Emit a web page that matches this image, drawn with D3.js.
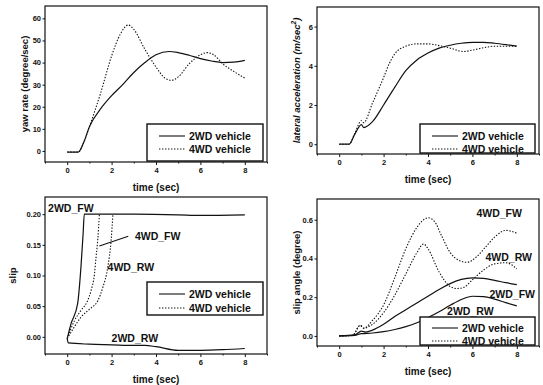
<!DOCTYPE html>
<html>
<head>
<meta charset="utf-8">
<script src="https://cdn.jsdelivr.net/npm/d3@7"></script>
<style>
  body { margin: 0; background: #fff; }
  svg { display: block; font-family: "Liberation Sans", Arial, sans-serif; font-weight: bold; }
</style>
</head>
<body>
<div id="chart"></div>
<script>
// tick values
var timeTicks = [0, 2, 4, 6, 8];
var yawTicks = [0, 10, 20, 30, 40, 50, 60];
var latTicks = [0, 2, 4, 6];
var slipTicks = [0, 0.05, 0.10, 0.15, 0.20];
var angleTicks = [0, 0.2, 0.4, 0.6];
var legendNames = ["2WD vehicle", "4WD vehicle"];

// series: [time (sec), value]
var yaw2WD = [[0,-0.5],[0.5,-0.5],[0.75,4],[1,11],[1.5,19],[2,25],[2.5,30],[3,35.5],[3.5,40],
  [4,43.5],[4.6,45],[5,44.5],[5.5,43.3],[6,41.8],[6.5,40.7],[7,40],[7.5,40.2],[8,41]];
var yaw4WD = [[0,-0.5],[0.5,-0.5],[0.75,4],[1,11],[1.5,26],[2,43],[2.4,53],[2.75,57],[3,55],
  [3.5,46],[4,38],[4.4,33],[4.7,32],[5,33.5],[5.5,39.5],[6,43.5],[6.3,44.5],[6.6,43.5],[7,39.5],[7.5,36],[8,33]];

var lat2WD = [[0,0],[0.45,0],[0.7,0.5],[1,1.0],[1.1,0.85],[1.5,1.15],[2,2.0],[2.5,2.9],[3,3.75],
  [3.5,4.3],[4,4.65],[4.5,4.9],[5,5.05],[5.5,5.15],[6,5.2],[6.5,5.2],[7,5.15],[7.5,5.08],[8,5.0]];
var lat4WD = [[0,0],[0.45,0],[0.7,0.55],[1,1.2],[1.1,1.1],[1.5,2.1],[2,3.4],[2.25,4.1],[2.5,4.6],
  [3,5.0],[3.5,5.12],[4,5.12],[4.5,5.03],[5,4.9],[5.6,4.73],[6,4.8],[6.5,4.92],[7,5.0],[8,5.0]];

var slip2WD_FW = [[0,-0.003],[0.17,0.021],[0.47,0.054],[0.62,0.114],[0.72,0.17],[0.77,0.2],
  [1,0.2],[3,0.2],[5,0.199],[6,0.198],[8,0.199]];
var slip2WD_RW = [[0,-0.003],[0.05,-0.01],[1,-0.012],[2,-0.013],[3,-0.014],[3.5,-0.014],
  [4,-0.016],[5,-0.022],[6,-0.022],[7,-0.021],[8,-0.019]];
var slip4WD_FW = [[0,-0.003],[0.32,0.026],[0.62,0.043],[0.92,0.059],[1.08,0.076],[1.23,0.103],
  [1.3,0.13],[1.38,0.16],[1.45,0.2]];
var slip4WD_RW = [[0,-0.003],[0.3,0.015],[0.62,0.032],[1,0.045],[1.38,0.059],[1.6,0.08],
  [1.83,0.114],[1.98,0.158],[2.06,0.2]];

var angle2WD_FW = [[0,0],[0.7,0.005],[1,0.025],[1.2,0.02],[1.5,0.03],[2,0.06],[2.5,0.1],[3,0.135],
  [3.5,0.17],[4,0.205],[4.5,0.24],[5,0.27],[5.5,0.292],[6,0.3],[6.5,0.297],[7,0.287],[7.5,0.275],[8,0.265]];
var angle2WD_RW = [[0,0],[0.7,0.003],[1,0.012],[1.5,0.015],[2,0.022],[2.5,0.033],[3,0.048],[3.5,0.068],
  [4,0.095],[4.5,0.125],[5,0.158],[5.5,0.188],[6,0.205],[6.5,0.203],[7,0.19],[7.5,0.172],[8,0.155]];
var angle4WD_FW = [[0,0],[0.6,0.003],[0.95,0.055],[1.1,0.04],[1.5,0.08],[2,0.16],[2.5,0.3],[3,0.45],
  [3.5,0.56],[3.8,0.6],[4,0.61],[4.3,0.59],[4.6,0.52],[5,0.43],[5.4,0.39],[5.75,0.38],[6.2,0.41],
  [6.6,0.46],[7,0.51],[7.5,0.545],[8,0.53]];
var angle4WD_RW = [[0,0],[0.6,0.003],[0.95,0.055],[1.1,0.04],[1.5,0.06],[2,0.12],[2.5,0.21],[3,0.32],
  [3.5,0.43],[3.8,0.475],[4,0.45],[4.5,0.33],[5,0.255],[5.3,0.245],[5.6,0.25],[6,0.29],[6.5,0.34],
  [7,0.372],[7.5,0.378],[8,0.347]];

var svg = d3.select("#chart").append("svg")
  .attr("width", 543)
  .attr("height", 385);

var ink = "#111";

function drawPanel(p) {
  var x = d3.scaleLinear().domain([-1, 9]).range([p.left, p.right]);
  var y = d3.scaleLinear().domain(p.yDomain).range([p.bottom, p.top]);
  var g = svg.append("g");

  // x axis
  var xa = g.append("g")
    .attr("transform", "translate(0," + p.bottom + ")")
    .call(d3.axisBottom(x).tickValues(timeTicks).tickSize(3).tickPadding(3).tickFormat(d3.format("d")));
  xa.select(".domain").remove();
  g.append("g")
    .attr("transform", "translate(0," + p.bottom + ")")
    .call(d3.axisBottom(x).tickValues([-1, 1, 3, 5, 7, 9]).tickSize(1.5).tickFormat(""))
    .select(".domain").remove();

  // y axis
  var ya = g.append("g")
    .attr("transform", "translate(" + p.left + ",0)")
    .call(d3.axisLeft(y).tickValues(p.yTicks).tickSize(2.5).tickPadding(1.5).tickFormat(p.yFormat));
  ya.select(".domain").remove();

  g.selectAll(".tick line").attr("stroke", ink).attr("stroke-width", 1);
  g.selectAll(".tick text").attr("fill", ink).style("font-size", "7.5px").style("font-weight", "bold")
    .style("font-family", '"Liberation Sans", Arial, sans-serif');

  // axis titles
  g.append("text")
    .attr("x", (p.left + p.right) / 2)
    .attr("y", p.bottom + 29)
    .attr("text-anchor", "middle")
    .attr("fill", ink)
    .style("font-size", "10px")
    .text("time (sec)");

  var yt = g.append("text")
    .attr("transform", "translate(" + p.yTitleX + "," + ((p.top + p.bottom) / 2) + ") rotate(-90)")
    .attr("text-anchor", "middle")
    .attr("fill", ink)
    .style("font-size", "9.5px");
  p.yTitle(yt);

  // lines
  var line = d3.line()
    .x(function(d) { return x(d[0]); })
    .y(function(d) { return y(d[1]); })
    .curve(d3.curveMonotoneX);

  p.series.forEach(function(s) {
    g.append("path")
      .datum(s.data)
      .attr("fill", "none")
      .attr("stroke", ink)
      .attr("stroke-width", s.dotted ? 1.1 : 1.2)
      .attr("stroke-dasharray", s.dotted ? "1.4,1.6" : null)
      .attr("d", line);
  });

  // frame
  g.append("rect")
    .attr("x", p.left).attr("y", p.top)
    .attr("width", p.right - p.left).attr("height", p.bottom - p.top)
    .attr("fill", "none").attr("stroke", ink).attr("stroke-width", 1.2);

  // legend
  var L = p.legend;
  g.append("rect")
    .attr("x", L.x0).attr("y", L.y0)
    .attr("width", L.x1 - L.x0).attr("height", L.y1 - L.y0)
    .attr("fill", "#fff").attr("stroke", ink).attr("stroke-width", 1.4);
  legendNames.forEach(function(name, i) {
    var ly = L.rows[i];
    g.append("line")
      .attr("x1", L.x0 + 12).attr("x2", L.x0 + 38)
      .attr("y1", ly).attr("y2", ly)
      .attr("stroke", ink).attr("stroke-width", 1.1)
      .attr("stroke-dasharray", i === 1 ? "1.4,1.6" : null);
    g.append("text")
      .attr("x", L.x0 + 42).attr("y", ly + 3.8)
      .attr("fill", ink)
      .style("font-size", "10.5px")
      .text(name);
  });

  // annotations
  (p.notes || []).forEach(function(n) {
    g.append("text")
      .attr("x", x(n.t)).attr("y", y(n.v))
      .attr("fill", ink)
      .style("font-size", "10.5px")
      .text(n.label);
  });
  (p.leaders || []).forEach(function(l) {
    g.append("line")
      .attr("x1", x(l[0][0])).attr("y1", y(l[0][1]))
      .attr("x2", x(l[1][0])).attr("y2", y(l[1][1]))
      .attr("stroke", ink).attr("stroke-width", 1.1);
  });
}

drawPanel({
  left: 45, right: 267, top: 6, bottom: 162,
  yDomain: [-5, 65.6], yTicks: yawTicks, yFormat: d3.format("d"),
  yTitleX: 28,
  yTitle: function(t) { t.text("yaw rate (degree/sec)"); },
  series: [{ data: yaw2WD }, { data: yaw4WD, dotted: true }],
  legend: { x0: 147, x1: 263, y0: 124, y1: 161, rows: [136, 149] }
});

drawPanel({
  left: 317, right: 539, top: 7, bottom: 154,
  yDomain: [-0.5, 7], yTicks: latTicks, yFormat: d3.format("d"),
  yTitleX: 300,
  yTitle: function(t) {
    t.style("font-style", "italic");
    t.append("tspan").text("lateral acceleration (m/sec");
    t.append("tspan").attr("dy", -4).style("font-size", "6.5px").text("2");
    t.append("tspan").attr("dy", 4).text(")");
  },
  series: [{ data: lat2WD }, { data: lat4WD, dotted: true }],
  legend: { x0: 420, x1: 535, y0: 124, y1: 153, rows: [136, 149] }
});

drawPanel({
  left: 45, right: 267, top: 197, bottom: 354,
  yDomain: [-0.028, 0.228], yTicks: slipTicks, yFormat: d3.format(".2f"),
  yTitleX: 16,
  yTitle: function(t) { t.text("slip"); },
  series: [{ data: slip2WD_FW }, { data: slip2WD_RW },
           { data: slip4WD_FW, dotted: true }, { data: slip4WD_RW, dotted: true }],
  legend: { x0: 147, x1: 263, y0: 282, y1: 315, rows: [294, 308] },
  notes: [
    { label: "2WD_FW", t: -0.86, v: 0.204 },
    { label: "4WD_FW", t: 3.05, v: 0.158 },
    { label: "4WD_RW", t: 1.82, v: 0.107 },
    { label: "2WD_RW", t: 2.0, v: -0.008 }
  ],
  leaders: [[[1.45, 0.148], [2.75, 0.164]]]
});

drawPanel({
  left: 317, right: 539, top: 199, bottom: 346,
  yDomain: [-0.052, 0.707], yTicks: angleTicks, yFormat: d3.format(".1f"),
  yTitleX: 300,
  yTitle: function(t) { t.text("slip angle (degree)"); },
  series: [{ data: angle2WD_FW }, { data: angle2WD_RW },
           { data: angle4WD_FW, dotted: true }, { data: angle4WD_RW, dotted: true }],
  legend: { x0: 420, x1: 535, y0: 317, y1: 345, rows: [328, 341] },
  notes: [
    { label: "4WD_FW", t: 6.18, v: 0.614 },
    { label: "4WD_RW", t: 6.59, v: 0.387 },
    { label: "2WD_FW", t: 6.77, v: 0.196 },
    { label: "2WD_RW", t: 4.86, v: 0.108 }
  ]
});
</script>
</body>
</html>
